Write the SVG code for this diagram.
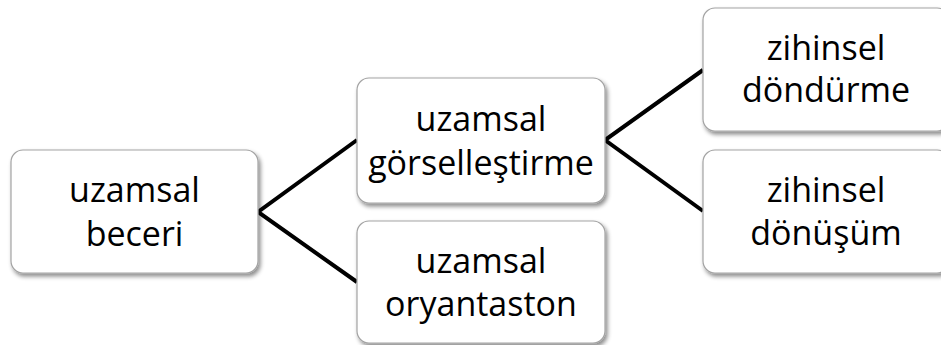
<svg xmlns="http://www.w3.org/2000/svg" width="941" height="345" viewBox="0 0 941 345">
  <defs>
    <filter id="sh" x="-10%" y="-10%" width="125%" height="130%">
      <feDropShadow dx="2" dy="3" stdDeviation="2" flood-color="#000" flood-opacity="0.45"/>
    </filter>
    <style>
      .box { fill: #ffffff; stroke: #a3a3a3; stroke-width: 1.2; filter: url(#sh); }
      .lbl { font-family: "Open Sans", "Liberation Sans", sans-serif; font-size: 34px; fill: #000; text-anchor: middle; }
      .con { stroke: #000; stroke-width: 4; fill: none; stroke-linejoin: miter; }
    </style>
  </defs>
  <rect width="941" height="345" fill="#ffffff"/>
  <g id="connectors">
    <polyline class="con" points="357,140 258,212 357,282"/>
    <polyline class="con" points="703,70 605,140 703,211"/>
  </g>
  <g id="n1">
    <rect class="box" x="11" y="150" width="247" height="123" rx="12"/>
    <text class="lbl" x="134.5" y="202">uzamsal</text>
    <text class="lbl" x="134.5" y="246">beceri</text>
  </g>
  <g id="n2">
    <rect class="box" x="357" y="78" width="248" height="125" rx="12"/>
    <text class="lbl" x="481" y="131">uzamsal</text>
    <text class="lbl" x="481" y="175">görselleştirme</text>
  </g>
  <g id="n3">
    <rect class="box" x="357" y="221" width="248" height="122" rx="12"/>
    <text class="lbl" x="481" y="273">uzamsal</text>
    <text class="lbl" x="481" y="316">oryantaston</text>
  </g>
  <g id="n4">
    <rect class="box" x="703" y="8" width="246" height="123" rx="12"/>
    <text class="lbl" x="826" y="60">zihinsel</text>
    <text class="lbl" x="826" y="102">döndürme</text>
  </g>
  <g id="n5">
    <rect class="box" x="703" y="150" width="246" height="123" rx="12"/>
    <text class="lbl" x="826" y="202">zihinsel</text>
    <text class="lbl" x="826" y="245">dönüşüm</text>
  </g>
</svg>
